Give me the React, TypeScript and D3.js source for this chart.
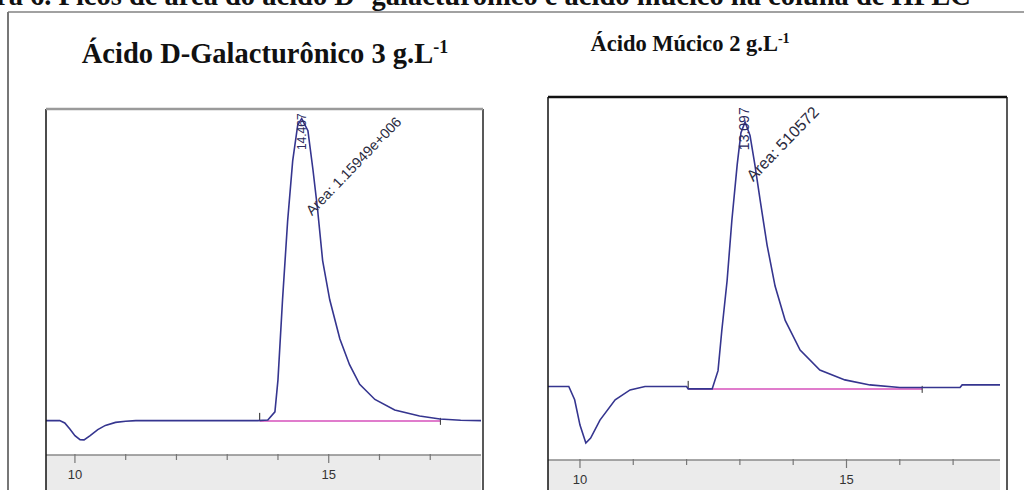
import React from "react";
import * as d3 from "d3";

// retention time (min) and detector signal (relative units)
const galTime = [9.43, 9.7, 9.8, 9.9, 10.0, 10.1, 10.18, 10.3, 10.45, 10.6, 10.8, 11.0, 11.2, 13.6, 13.8, 13.94, 14.0, 14.09, 14.19, 14.29, 14.39, 14.467, 14.59, 14.69, 14.78, 14.88, 15.02, 15.22, 15.41, 15.61, 15.91, 16.3, 16.79, 17.19, 17.6, 18.0];
const galSignal = [0, 0, -0.8, -2.8, -5, -6.3, -6.4, -5, -3, -1.6, -0.6, -0.2, 0, 0, 0.2, 2.9, 13.5, 40, 66, 86, 98, 100, 96, 83, 70, 53, 40, 27, 18.5, 12, 7, 3.5, 1.5, 0.5, 0.1, 0];

const mucTime = [9.4, 9.79, 9.9, 10.0, 10.11, 10.2, 10.375, 10.66, 10.94, 11.22, 12.0, 12.03, 12.48, 12.59, 12.66, 12.76, 12.85, 12.95, 13.02, 13.097, 13.19, 13.28, 13.38, 13.51, 13.66, 13.85, 14.13, 14.5, 14.97, 15.44, 16.0, 17.13, 17.17, 17.88];
const mucSignal = [0, 0, -5, -14.6, -21.4, -19.5, -12.7, -5, -1.3, 0, 0, -0.9, -0.9, 6, 21, 40, 63, 84, 96, 100, 95, 84, 70.5, 53.5, 38, 25, 13.8, 6.2, 2.5, 0.6, -0.4, -0.4, 0.6, 0.6];

const xTicks = [10, 11, 12, 13, 14, 15, 16, 17];
const xLabels = [10, 15];

const galPeak = { rt: "14.467", t: 14.467, s: 89.6, rtSize: 12, area: "Area: 1.15949e+006", at: 14.67, as: 67.7, areaSize: 14.3 };
const mucPeak = { rt: "13.097", t: 13.097, s: 89.4, rtSize: 14, area: "Area: 510572", at: 13.25, as: 77.3, areaSize: 16 };
const galBase = [13.64, 17.2];
const mucBase = [12.03, 16.42];

type PanelProps = {
  time: number[]; signal: number[]; peak: any; base: number[]; baseVal: number;
  x0: number; x1: number; frameR: number; top: number; axisY: number;
  xDom: number[]; yDom: number[]; topStroke: string;
};

function Panel(p: PanelProps) {
  const x = d3.scaleLinear().domain(p.xDom).range([p.x0, p.x1]);
  const y = d3.scaleLinear().domain(p.yDom).range([p.axisY, p.top]);
  const line = d3.line<number>().x((d, i) => x(p.time[i])).y(d => y(d));
  const lbl = "Arial, 'Liberation Sans', sans-serif";
  return (
    <g>
      <rect x={p.x0} y={p.axisY} width={p.x1 - p.x0} height={490 - p.axisY} fill="#ebebeb" />
      <line x1={p.x0} x2={p.x1} y1={p.axisY} y2={p.axisY} stroke="#8a8a8a" strokeWidth={1.5} />
      {xTicks.map(t => (
        <line key={t} x1={x(t)} x2={x(t)} y1={p.axisY - 1} y2={p.axisY + (xLabels.includes(t) ? 8 : 5)} stroke="#777" strokeWidth={1.2} />
      ))}
      {xLabels.map(t => (
        <text key={t} x={x(t)} y={p.axisY + 24} textAnchor="middle" fontFamily={lbl} fontSize={13} fill="#333">{t}</text>
      ))}
      <line x1={x(p.base[0])} x2={x(p.base[1])} y1={y(p.baseVal)} y2={y(p.baseVal)} stroke="#e07ccc" strokeWidth={2} />
      <line x1={x(p.base[0])} x2={x(p.base[0])} y1={y(p.baseVal) - 8} y2={y(p.baseVal)} stroke="#222" strokeWidth={1} />
      <line x1={x(p.base[1])} x2={x(p.base[1])} y1={y(p.baseVal) - 3} y2={y(p.baseVal) + 4} stroke="#333" strokeWidth={1} />
      <path d={line(p.signal) || ""} fill="none" stroke="#35358f" strokeWidth={1.6} />
      <text transform={`translate(${x(p.peak.t) + 4},${y(p.peak.s)}) rotate(-90)`} fontFamily={lbl} fontSize={p.peak.rtSize} fill="#2b2b5e">{p.peak.rt}</text>
      <text transform={`translate(${x(p.peak.at)},${y(p.peak.as)}) rotate(-46)`} fontFamily={lbl} fontSize={p.peak.areaSize} fill="#2b2b3e">{p.peak.area}</text>
      <line x1={p.x0} x2={p.x0} y1={p.top} y2={490} stroke="#111" strokeWidth={1.5} />
      <line x1={p.frameR} x2={p.frameR} y1={p.top} y2={490} stroke="#222" strokeWidth={1.5} />
      <line x1={p.x0} x2={p.frameR} y1={p.top} y2={p.top} stroke={p.topStroke} strokeWidth={2.5} />
    </g>
  );
}

export default function App() {
  const serif = "'Liberation Serif', 'Times New Roman', serif";
  return (
    <svg width={1024} height={490} style={{ position: "absolute", left: 0, top: 0, background: "#fff" }}>
      <text x={-4} y={5} fontFamily={serif} fontWeight="bold" fontSize={28.5} fill="#111">ra 6. Picos de área do ácido D- galacturônico e ácido múcico na coluna de HPLC</text>
      <line x1={8} x2={1024} y1={12} y2={12} stroke="#444" strokeWidth={1.2} />
      <line x1={8} x2={8} y1={12} y2={490} stroke="#777" strokeWidth={2} />

      <text x={265} y={63} textAnchor="middle" fontFamily={serif} fontWeight="bold" fontSize={28.5} fill="#111">
        Ácido D-Galacturônico 3 g.L<tspan dy={-10} fontSize={18}>-1</tspan>
      </text>
      <text x={690} y={51} textAnchor="middle" fontFamily={serif} fontWeight="bold" fontSize={22.5} fill="#111">
        Ácido Múcico 2 g.L<tspan dy={-8} fontSize={14}>-1</tspan>
      </text>

      <Panel time={galTime} signal={galSignal} peak={galPeak} base={galBase} baseVal={-0.1}
        x0={46} x1={481} frameR={483} top={109} axisY={455}
        xDom={[9.43, 18.0]} yDom={[-11.4, 103.2]} topStroke="#9a9a9a" />
      <Panel time={mucTime} signal={mucSignal} peak={mucPeak} base={mucBase} baseVal={-0.9}
        x0={548} x1={1000} frameR={1007} top={97} axisY={460}
        xDom={[9.4, 17.88]} yDom={[-27.8, 109.5]} topStroke="#111" />
    </svg>
  );
}
